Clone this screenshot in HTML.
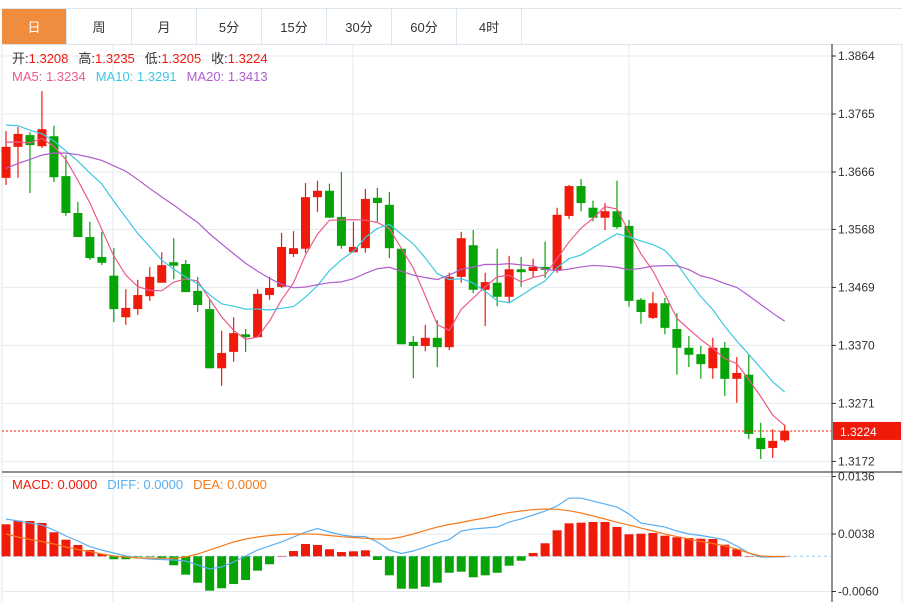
<!DOCTYPE html>
<html><head><meta charset="utf-8">
<style>
body{margin:0;background:#fff;width:910px;height:602px;overflow:hidden;font-family:"Liberation Sans","Noto Sans CJK SC",sans-serif;}
#tabs{position:absolute;left:2px;top:8px;height:35px;width:900px;border-top:1px solid #dde6ee;border-bottom:1px solid #dde6ee;display:flex;}
.tab{width:65px;height:35px;border-right:1px solid #dde6ee;font-size:13px;color:#333;display:flex;align-items:center;justify-content:center;box-sizing:border-box;}
.tab.on{background:#f08c3e;color:#fff;}
svg{position:absolute;left:0;top:0;}
</style></head><body>
<div id="tabs">
<div class="tab on">日</div>
<div class="tab">周</div>
<div class="tab">月</div>
<div class="tab">5分</div>
<div class="tab">15分</div>
<div class="tab">30分</div>
<div class="tab">60分</div>
<div class="tab">4时</div>
</div>
<svg id="chart" width="910" height="602" style="top:0"></svg>
<script>
const opens=[1.3656,1.3709,1.3729,1.3710,1.3727,1.3659,1.3596,1.3555,1.3521,1.3489,1.3418,1.3432,1.3454,1.3477,1.3512,1.3509,1.3463,1.3432,1.3331,1.3359,1.3389,1.3384,1.3456,1.3470,1.3526,1.3535,1.3623,1.3634,1.3589,1.3529,1.3536,1.3622,1.3610,1.3535,1.3376,1.3369,1.3383,1.3367,1.3487,1.3541,1.3465,1.3477,1.3453,1.3500,1.3497,1.3504,1.3499,1.3591,1.3642,1.3605,1.3588,1.3599,1.3574,1.3448,1.3417,1.3442,1.3398,1.3366,1.3355,1.3331,1.3366,1.3313,1.3320,1.3212,1.3195,1.3208];
const highs=[1.3736,1.3743,1.3734,1.3804,1.3745,1.3695,1.3615,1.3581,1.3564,1.3536,1.3466,1.3482,1.3504,1.3529,1.3553,1.3516,1.3487,1.3448,1.3395,1.3418,1.3398,1.3466,1.3487,1.3562,1.3565,1.3647,1.3651,1.3646,1.3666,1.3581,1.3637,1.3639,1.3632,1.3536,1.3386,1.3405,1.3413,1.3494,1.3564,1.3567,1.3494,1.3535,1.3523,1.3521,1.3518,1.3547,1.3605,1.3644,1.3654,1.3617,1.3613,1.3651,1.3584,1.3451,1.3461,1.3451,1.3425,1.3386,1.3369,1.3383,1.3376,1.3350,1.3354,1.3238,1.3227,1.3235];
const lows=[1.3644,1.3656,1.3630,1.3707,1.3649,1.3591,1.3555,1.3516,1.3507,1.3410,1.3405,1.3422,1.3446,1.3477,1.3483,1.3461,1.3427,1.3331,1.3301,1.3342,1.3359,1.3384,1.3448,1.3468,1.3521,1.3528,1.3598,1.3588,1.3535,1.3529,1.3528,1.3581,1.3519,1.3372,1.3314,1.3360,1.3333,1.3362,1.3477,1.3459,1.3403,1.3437,1.3442,1.3470,1.3485,1.3485,1.3494,1.3586,1.3599,1.3582,1.3567,1.3569,1.3436,1.3407,1.3415,1.3389,1.3320,1.3333,1.3313,1.3313,1.3284,1.3272,1.3210,1.3176,1.3178,1.3205];
const closes=[1.3709,1.3731,1.3712,1.3739,1.3657,1.3596,1.3555,1.3519,1.3511,1.3432,1.3434,1.3456,1.3487,1.3507,1.3506,1.3461,1.3439,1.3331,1.3357,1.3391,1.3384,1.3458,1.3468,1.3538,1.3536,1.3623,1.3634,1.3588,1.3540,1.3538,1.3620,1.3613,1.3536,1.3372,1.3369,1.3383,1.3367,1.3487,1.3553,1.3465,1.3478,1.3453,1.3500,1.3495,1.3504,1.3499,1.3593,1.3642,1.3613,1.3588,1.3599,1.3572,1.3446,1.3427,1.3442,1.3400,1.3366,1.3354,1.3338,1.3366,1.3313,1.3323,1.3219,1.3193,1.3207,1.3224];
const priorCloses=[1.3560,1.3575,1.3590,1.3585,1.3600,1.3610,1.3605,1.3620,1.3615,1.3620,1.3740,1.3790,1.3800,1.3780,1.3765,1.3730,1.3720,1.3700,1.3726];
const diffVals=[0.00636,0.00602,0.00567,0.00533,0.00448,0.00346,0.00261,0.00164,0.00107,0.00056,0.00005,-0.00029,-0.00046,-0.00055,-0.00063,-0.0008,-0.00148,-0.00216,-0.00182,-0.00097,0.00005,0.00107,0.00176,0.00244,0.00329,0.00414,0.00474,0.00414,0.00363,0.00337,0.00337,0.00244,0.00107,0.00048,0.0009,0.00158,0.00227,0.00286,0.00431,0.00465,0.00482,0.00499,0.00584,0.00636,0.00704,0.00772,0.00857,0.00993,0.00993,0.00942,0.00891,0.0084,0.00721,0.00567,0.00533,0.00499,0.00431,0.0038,0.00354,0.0032,0.00278,0.00176,0.00056,-0.00012,-0.00012,-0.00007];
const deaVals=[0.0038,0.00329,0.00286,0.00252,0.0021,0.00158,0.00116,0.00082,0.00039,0.00005,-0.00012,-0.00029,-0.00029,-0.00034,-0.00034,-0.00012,0.00039,0.00107,0.00176,0.00244,0.00295,0.00329,0.00354,0.00371,0.0038,0.0038,0.00375,0.00354,0.00334,0.0032,0.00307,0.00295,0.00295,0.00329,0.0038,0.0044,0.00499,0.00542,0.00576,0.00619,0.00653,0.00704,0.00746,0.00772,0.00797,0.00806,0.00801,0.00777,0.00738,0.00687,0.00636,0.00579,0.00533,0.00482,0.00431,0.0038,0.00337,0.00295,0.00252,0.00218,0.00176,0.00124,0.00056,0.00005,-0.00003,-0.00003];
const histVals=[0.00545,0.00607,0.00602,0.00568,0.00409,0.00283,0.00193,0.00107,0.0004,-0.0005,-0.0005,-0.0001,-0.00005,-0.0003,-0.00153,-0.00313,-0.0045,-0.00586,-0.00545,-0.00472,-0.00404,-0.00245,-0.00136,0.00005,0.0009,0.0021,0.00193,0.0012,0.00073,0.00085,0.00102,-0.00063,-0.00324,-0.00552,-0.00552,-0.00518,-0.0045,-0.0028,-0.00262,-0.00358,-0.00324,-0.0028,-0.0016,-0.00075,0.00057,0.00222,0.00443,0.00562,0.00573,0.00585,0.00585,0.005,0.00375,0.00385,0.00397,0.00351,0.00324,0.00312,0.003,0.00295,0.00198,0.0012,0.00003,-0.0001,-0.00003,0.00002];
const priceTicks=["1.3864","1.3765","1.3666","1.3568","1.3469","1.3370","1.3271","1.3172"];
const macdTicks=["0.0136","0.0038","-0.0060"];

const svg=document.getElementById('chart');
const NS='http://www.w3.org/2000/svg';
function mk(tag,attrs,parent){const e=document.createElementNS(NS,tag);for(const k in attrs)e.setAttribute(k,attrs[k]);(parent||svg).appendChild(e);return e;}
const yP=p=>56+(1.3864-p)/0.0099*58;
const yM=v=>556.3-v*5867;
const xC=i=>6+i*11.98;
const RED='#f01a0a',GREEN='#06a406';

// grid
priceTicks.forEach(t=>{const y=yP(parseFloat(t));
 const g=mk('line',{x1:2,x2:831,y1:y,y2:y,stroke:'#e3ebf1'});
 
 mk('line',{x1:832,x2:836,y1:y,y2:y,stroke:'#333'});
 const tx=mk('text',{x:838,y:y+4,'font-size':12,fill:'#333'});tx.textContent=t;
 });
macdTicks.forEach(t=>{const y=yM(parseFloat(t));
 const g=mk('line',{x1:2,x2:831,y1:y,y2:y,stroke:'#e3ebf1'});
 
 mk('line',{x1:832,x2:836,y1:y,y2:y,stroke:'#333'});
 const tx=mk('text',{x:838,y:y+4,'font-size':12,fill:'#333'});tx.textContent=t;
 });
[113,353,629].forEach(x=>{mk('line',{x1:x,x2:x,y1:44,y2:602,stroke:'#e3ebf1'});});
mk('line',{x1:2,x2:2,y1:44,y2:602,stroke:'#dde6ee'});
mk('line',{x1:902,x2:902,y1:44,y2:602,stroke:'#dde6ee'});
mk('line',{x1:832,x2:832,y1:44,y2:602,stroke:'#222'});
mk('line',{x1:2,x2:902,y1:472,y2:472,stroke:'#222'});

// candles
closes.forEach((c,i)=>{const o=opens[i],x=xC(i),up=c>=o,col=up?RED:GREEN;
 const w=mk('line',{x1:x,x2:x,y1:yP(highs[i]),y2:yP(lows[i]),stroke:col,'stroke-width':1.2});
 
 const t=Math.min(yP(o),yP(c)),h=Math.max(1,Math.abs(yP(o)-yP(c)));
 const b=mk('rect',{x:x-4.5,y:t,width:9,height:h,fill:col});
 });

// MAs
const all=priorCloses.concat(closes);
function ma(n){return closes.map((c,i)=>{const j=i+priorCloses.length;let s=0;for(let k=j-n+1;k<=j;k++)s+=all[k];return s/n;});}
[[5,'#ec5a8c','ma5-line'],[10,'#3cc8e0','ma10-line'],[20,'#b05ccc','ma20-line']].forEach(([n,col,name])=>{
 const v=ma(n);const p=mk('polyline',{points:v.map((m,i)=>xC(i)+','+yP(m)).join(' '),fill:'none',stroke:col,'stroke-width':1.2});
 });

// last price line
const lc=closes[closes.length-1];
mk('line',{x1:2,x2:831,y1:yP(lc),y2:yP(lc),stroke:RED,'stroke-dasharray':'2,2'});
const lb=mk('rect',{x:833,y:yP(lc)-9,width:68,height:18,fill:RED});

const lt=mk('text',{x:840,y:yP(lc)+5,'font-size':12,fill:'#fff'});lt.textContent=lc.toFixed(4);


// MACD
mk('line',{x1:2,x2:831,y1:yM(0),y2:yM(0),stroke:'#8fd0ea','stroke-dasharray':'3,3'});
histVals.forEach((v,i)=>{const x=xC(i),y0=yM(0),y1=yM(v);
 const r=mk('rect',{x:x-4.5,y:Math.min(y0,y1),width:9,height:Math.max(0.5,Math.abs(y1-y0)),fill:v>=0?RED:GREEN});
 });
const dl=mk('polyline',{points:diffVals.map((v,i)=>xC(i)+','+yM(v)).join(' '),fill:'none',stroke:'#5aaef0','stroke-width':1.2});

const el=mk('polyline',{points:deaVals.map((v,i)=>xC(i)+','+yM(v)).join(' '),fill:'none',stroke:'#f57a1c','stroke-width':1.2});


// legends
function legend(y,items,name){const t=mk('text',{x:12,y:y,'font-size':13});
 items.forEach(([s,c,dx])=>{const ts=mk('tspan',{fill:c},t);if(dx)ts.setAttribute('dx',dx);ts.textContent=s;});}
legend(63,[['开:','#333'],['1.3208',RED],['高:','#333',10],['1.3235',RED],['低:','#333',10],['1.3205',RED],['收:','#333',10],['1.3224',RED]],'ohlc-legend');
legend(81,[['MA5: 1.3234','#ec5a8c'],['MA10: 1.3291','#3cc8e0',10],['MA20: 1.3413','#b05ccc',10]],'ma-legend');
legend(489,[['MACD: 0.0000',RED],['DIFF: 0.0000','#5aaef0',10],['DEA: 0.0000','#f57a1c',10]],'macd-legend');
</script>
</body></html>
